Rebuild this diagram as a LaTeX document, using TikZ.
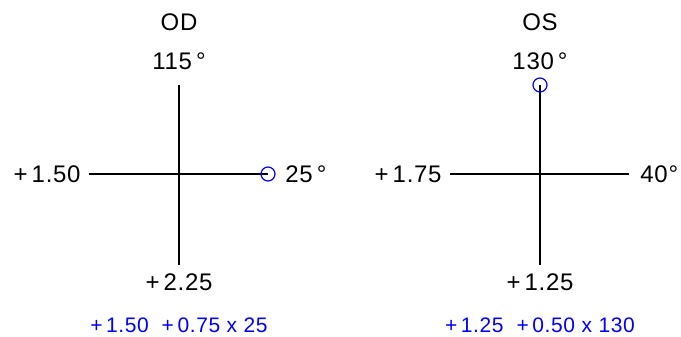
\documentclass[tikz,border=0pt]{standalone}
\usepackage{fontspec}
\setmainfont{Liberation Sans}
\newfontfamily\labelfont[LetterSpace=3]{Liberation Sans}
\usetikzlibrary{positioning}
\tikzset{
  armline/.style  = {black,line width=1pt},
  eyehead/.style  = {font=\labelfont\fontsize{12}{14}\selectfont,inner sep=0pt},
  axlabel/.style  = {font=\labelfont\fontsize{12}{14}\selectfont,inner sep=0pt},
  formula/.style  = {font=\labelfont\fontsize{10.5}{12}\selectfont,blue,inner sep=0pt},
  axismark/.style = {circle,draw=blue,line width=0.6pt,minimum size=7pt,inner sep=0pt}
}
% #1 prefix, #2 centre x, #3 eye, #4 top, #5 left, #6 right, #7 bottom, #8 formula, #9 gap right
\newcommand{\eyecross}[9]{%
  \coordinate (#1c) at (#2,174);
  \coordinate (#1t) at (#2,85);
  \coordinate (#1b) at (#2,265);
  \coordinate (#1l) at (#2-90,174);
  \coordinate (#1r) at (#2+89,174);
  \draw[armline] (#1t) -- (#1b);
  \draw[armline] (#1l) -- (#1r);
  \node[eyehead] (#1eye) at (#2,22) {#3};
  \node[axlabel] (#1top) at (#2,61) {#4};
  \node[axlabel,anchor=east] (#1left) at (#2-98,174) {#5};
  \node[axlabel,anchor=west] (#1right) at (#2+#9,174) {#6};
  \node[axlabel] (#1bot) at (#2,282) {#7};
  \node[formula] (#1form) at (#2,325) {#8};
}

\begin{document}
\begin{tikzpicture}[x=0.5pt,y=-0.5pt]
  \useasboundingbox (0,0) rectangle (681,337);
  \eyecross{od}{179}{OD}{115\,°}{+\,1.50}{25\,°}{+\,2.25}{+\,1.50\ \ +\,0.75 x 25}{106}
  \eyecross{os}{540}{OS}{130\,°}{+\,1.75}{40°}{+\,1.25}{+\,1.25\ \ +\,0.50 x 130}{100}
  \node[axismark] (odmark) at (odr) {};
  \node[axismark] (osmark) at (ost) {};
\end{tikzpicture}
\end{document}
